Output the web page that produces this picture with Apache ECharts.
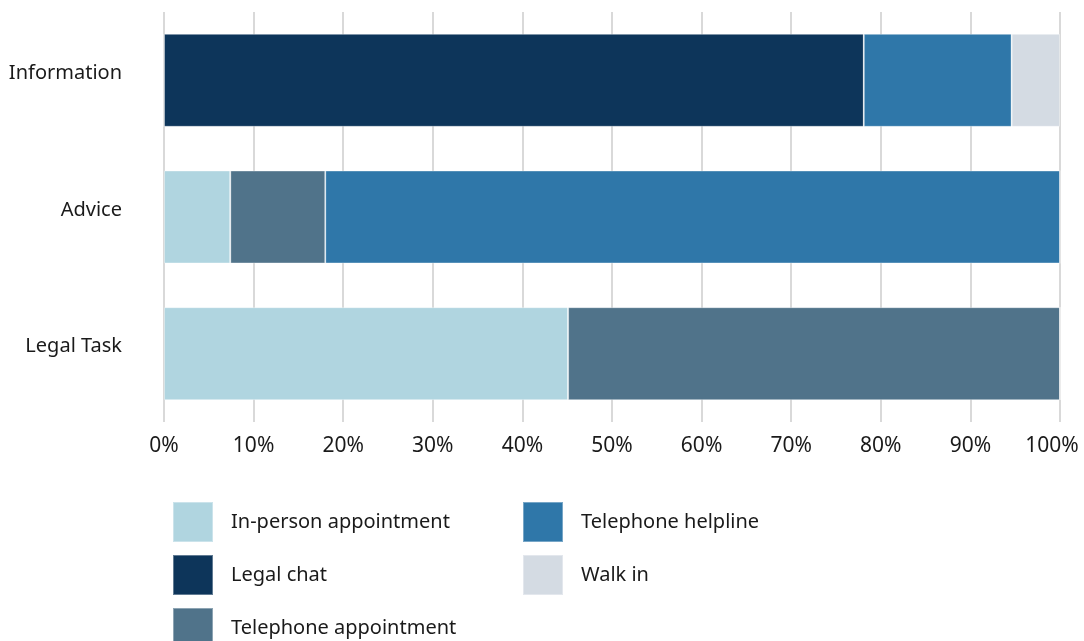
<!DOCTYPE html>
<html><head><meta charset="utf-8">
<script src="https://cdn.jsdelivr.net/npm/echarts@6/dist/echarts.min.js"></script>
<style>html,body{margin:0;padding:0;background:#fff}#c{width:1084px;height:641px}</style>
</head><body><div id="c"></div>
<script>
const categories = ['Information', 'Advice', 'Legal Task'];
const seriesNames = ['In-person appointment', 'Legal chat', 'Telephone appointment', 'Telephone helpline', 'Walk in'];
const inPerson = [0, 7.4, 45.1];
const legalChat = [78.1, 0, 0];
const telAppointment = [0, 10.6, 54.9];
const telHelpline = [16.5, 82.0, 0];
const walkIn = [5.4, 0, 0];
const colors = ['#b0d5e0', '#0d355a', '#50738a', '#2f77a9', '#d4dbe3'];
const values = [inPerson, legalChat, telAppointment, telHelpline, walkIn];
const font = '"Noto Sans", sans-serif';
const chart = echarts.init(document.getElementById('c'));
const legendBase = {orient: 'vertical', top: 501, height: 160, padding: 0, itemWidth: 40, itemHeight: 40, itemGap: 11,
  icon: 'rect', textStyle: {fontSize: 20, color: '#1a1a1a', fontFamily: font, padding: [12, 0, 0, 13]}};
const labelStyle = {color: '#1a1a1a', fontSize: 21, fontFamily: font};
chart.setOption({
  animation: false,
  grid: {left: 164, right: 24, top: 12, bottom: 219, containLabel: false, outerBoundsMode: 'none'},
  xAxis: {type: 'value', min: 0, max: 100, interval: 10,
    axisLabel: Object.assign({margin: 14,
      formatter: v => v === 100 ? '{last|' + v + '%}' : v + '%',
      rich: {last: Object.assign({padding: [0, 16, 0, 0]}, labelStyle)}}, labelStyle),
    splitLine: {lineStyle: {color: '#d9d9d9', width: 2}},
    axisLine: {show: false}, axisTick: {show: false}},
  yAxis: {type: 'category', data: categories, inverse: true,
    axisLabel: {color: '#1a1a1a', fontSize: 20, fontFamily: font, margin: 42, verticalAlign: 'bottom', lineHeight: 14},
    axisLine: {show: false}, axisTick: {show: false}, splitLine: {show: false}},
  legend: [
    Object.assign({left: 172, data: seriesNames.slice(0, 3)}, legendBase),
    Object.assign({left: 522, data: seriesNames.slice(3)}, legendBase)
  ],
  series: seriesNames.map((n, i) => ({
    name: n, type: 'bar', stack: 'total', data: values[i], barWidth: '68%',
    itemStyle: {color: colors[i], borderColor: 'rgba(255,255,255,0.35)', borderWidth: 1}
  }))
});
</script></body></html>
